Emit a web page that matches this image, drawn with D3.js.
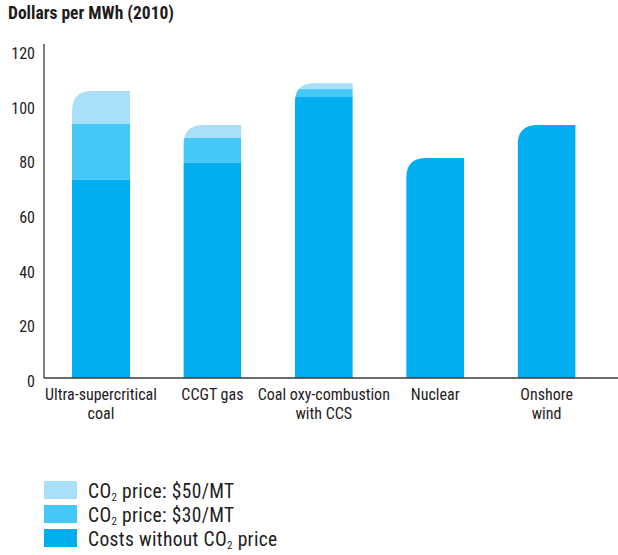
<!DOCTYPE html>
<html>
<head>
<meta charset="utf-8">
<script src="https://cdn.jsdelivr.net/npm/d3@7/dist/d3.min.js"></script>
<style>
  html, body { margin: 0; padding: 0; background: #fff; }
  svg { display: block; }
  text { font-family: "Liberation Sans Narrow", "Arial Narrow", "Roboto Condensed", "DejaVu Sans Condensed", sans-serif; fill: #1f1c1d; }
</style>
</head>
<body>
<svg id="chart" width="618" height="555"></svg>
<script>
// Levelized cost by technology, dollars per MWh (2010)
const categories = [
  ["Ultra-supercritical", "coal"],
  ["CCGT gas"],
  ["Coal oxy-combustion", "with CCS"],
  ["Nuclear"],
  ["Onshore", "wind"]
];
const baseCost   = [72.5, 78.7, 102.8, 80.5, 92.6];   // costs without CO2 price
const withCO2At30 = [93.0, 87.8, 105.7, 80.5, 92.6];  // total with $30/MT CO2 price
const withCO2At50 = [105.0, 92.6, 107.9, 80.5, 92.6]; // total with $50/MT CO2 price
const yTicks = [0, 20, 40, 60, 80, 100, 120];

const colors = { base: "#00aeef", p30: "#45c8f5", p50: "#aadff9" };

const svg = d3.select("#chart");
const W = 618, H = 555;

const x = d3.scaleBand()
  .domain(d3.range(categories.length))
  .range([44, 603.6])
  .paddingInner(0.4794)
  .paddingOuter(0.2513);

const y = d3.scaleLinear().domain([0, 120]).range([378, 50]);

// Title
svg.append("text")
  .attr("x", 8).attr("y", 19)
  .style("font-size", "17.5px").style("font-weight", "bold")
  .text("Dollars per MWh (2010)");

// Y tick labels (no tick marks)
svg.append("g")
  .selectAll("text")
  .data(yTicks)
  .join("text")
  .attr("x", 35)
  .attr("y", d => y(d) + 9)
  .attr("text-anchor", "end")
  .style("font-size", "16px")
  .text(d => d);

// Bars: rounded top-left corner, stacked segments clipped to the outline
const rad = 20;
function outline(i) {
  const x0 = x(i), w = x.bandwidth();
  const top = y(withCO2At50[i]), bot = y(0);
  const r = Math.min(rad, bot - top);
  return `M${x0},${bot} L${x0},${top + r} Q${x0},${top} ${x0 + r},${top} L${x0 + w},${top} L${x0 + w},${bot} Z`;
}

const defs = svg.append("defs");
categories.forEach((c, i) => {
  defs.append("clipPath").attr("id", "bar-clip-" + i)
    .append("path").attr("d", outline(i));
});

const stacks = categories.map((c, i) => [
  { lo: withCO2At30[i], hi: withCO2At50[i], fill: colors.p50 },
  { lo: baseCost[i], hi: withCO2At30[i], fill: colors.p30 },
  { lo: 0, hi: baseCost[i], fill: colors.base }
]);

const barG = svg.append("g");
stacks.forEach((segs, i) => {
  const g = barG.append("g").attr("clip-path", `url(#bar-clip-${i})`);
  g.selectAll("rect")
    .data(segs.filter(s => s.hi > s.lo))
    .join("rect")
    .attr("x", x(i))
    .attr("width", x.bandwidth())
    .attr("y", s => y(s.hi))
    .attr("height", s => y(s.lo) - y(s.hi))
    .attr("fill", s => s.fill);
});

// Axis lines
svg.append("line")
  .attr("x1", 44).attr("x2", 44).attr("y1", 44).attr("y2", y(0))
  .attr("stroke", "#3a3a3a").attr("stroke-width", 1.3);
svg.append("line")
  .attr("x1", 44).attr("x2", W).attr("y1", y(0)).attr("y2", y(0))
  .attr("stroke", "#3a3a3a").attr("stroke-width", 1.3);

// Category labels
svg.append("g")
  .selectAll("text")
  .data(categories)
  .join("text")
  .attr("text-anchor", "middle")
  .style("font-size", "16px")
  .each(function(lines, i) {
    const t = d3.select(this);
    lines.forEach((ln, k) => {
      t.append("tspan")
        .attr("x", x(i) + x.bandwidth() / 2)
        .attr("y", 400 + k * 19)
        .text(ln);
    });
  });

// Legend
const legendItems = [
  { fill: colors.p50, parts: ["CO", "2", " price: $50/MT"] },
  { fill: colors.p30, parts: ["CO", "2", " price: $30/MT"] },
  { fill: colors.base, parts: ["Costs without CO", "2", " price"] }
];
const lg = svg.append("g");
legendItems.forEach((it, k) => {
  const top = 481 + k * 24;
  lg.append("rect")
    .attr("x", 44).attr("y", top).attr("width", 33).attr("height", 18)
    .attr("fill", it.fill);
  const t = lg.append("text")
    .attr("x", 88).attr("y", top + 17)
    .style("font-size", "19.5px")
    .style("letter-spacing", "0.35px");
  t.append("tspan").text(it.parts[0]);
  t.append("tspan").attr("dy", 3).style("font-size", "11px").text(it.parts[1]);
  t.append("tspan").attr("dy", -3).text(it.parts[2]);
});
</script>
</body>
</html>
